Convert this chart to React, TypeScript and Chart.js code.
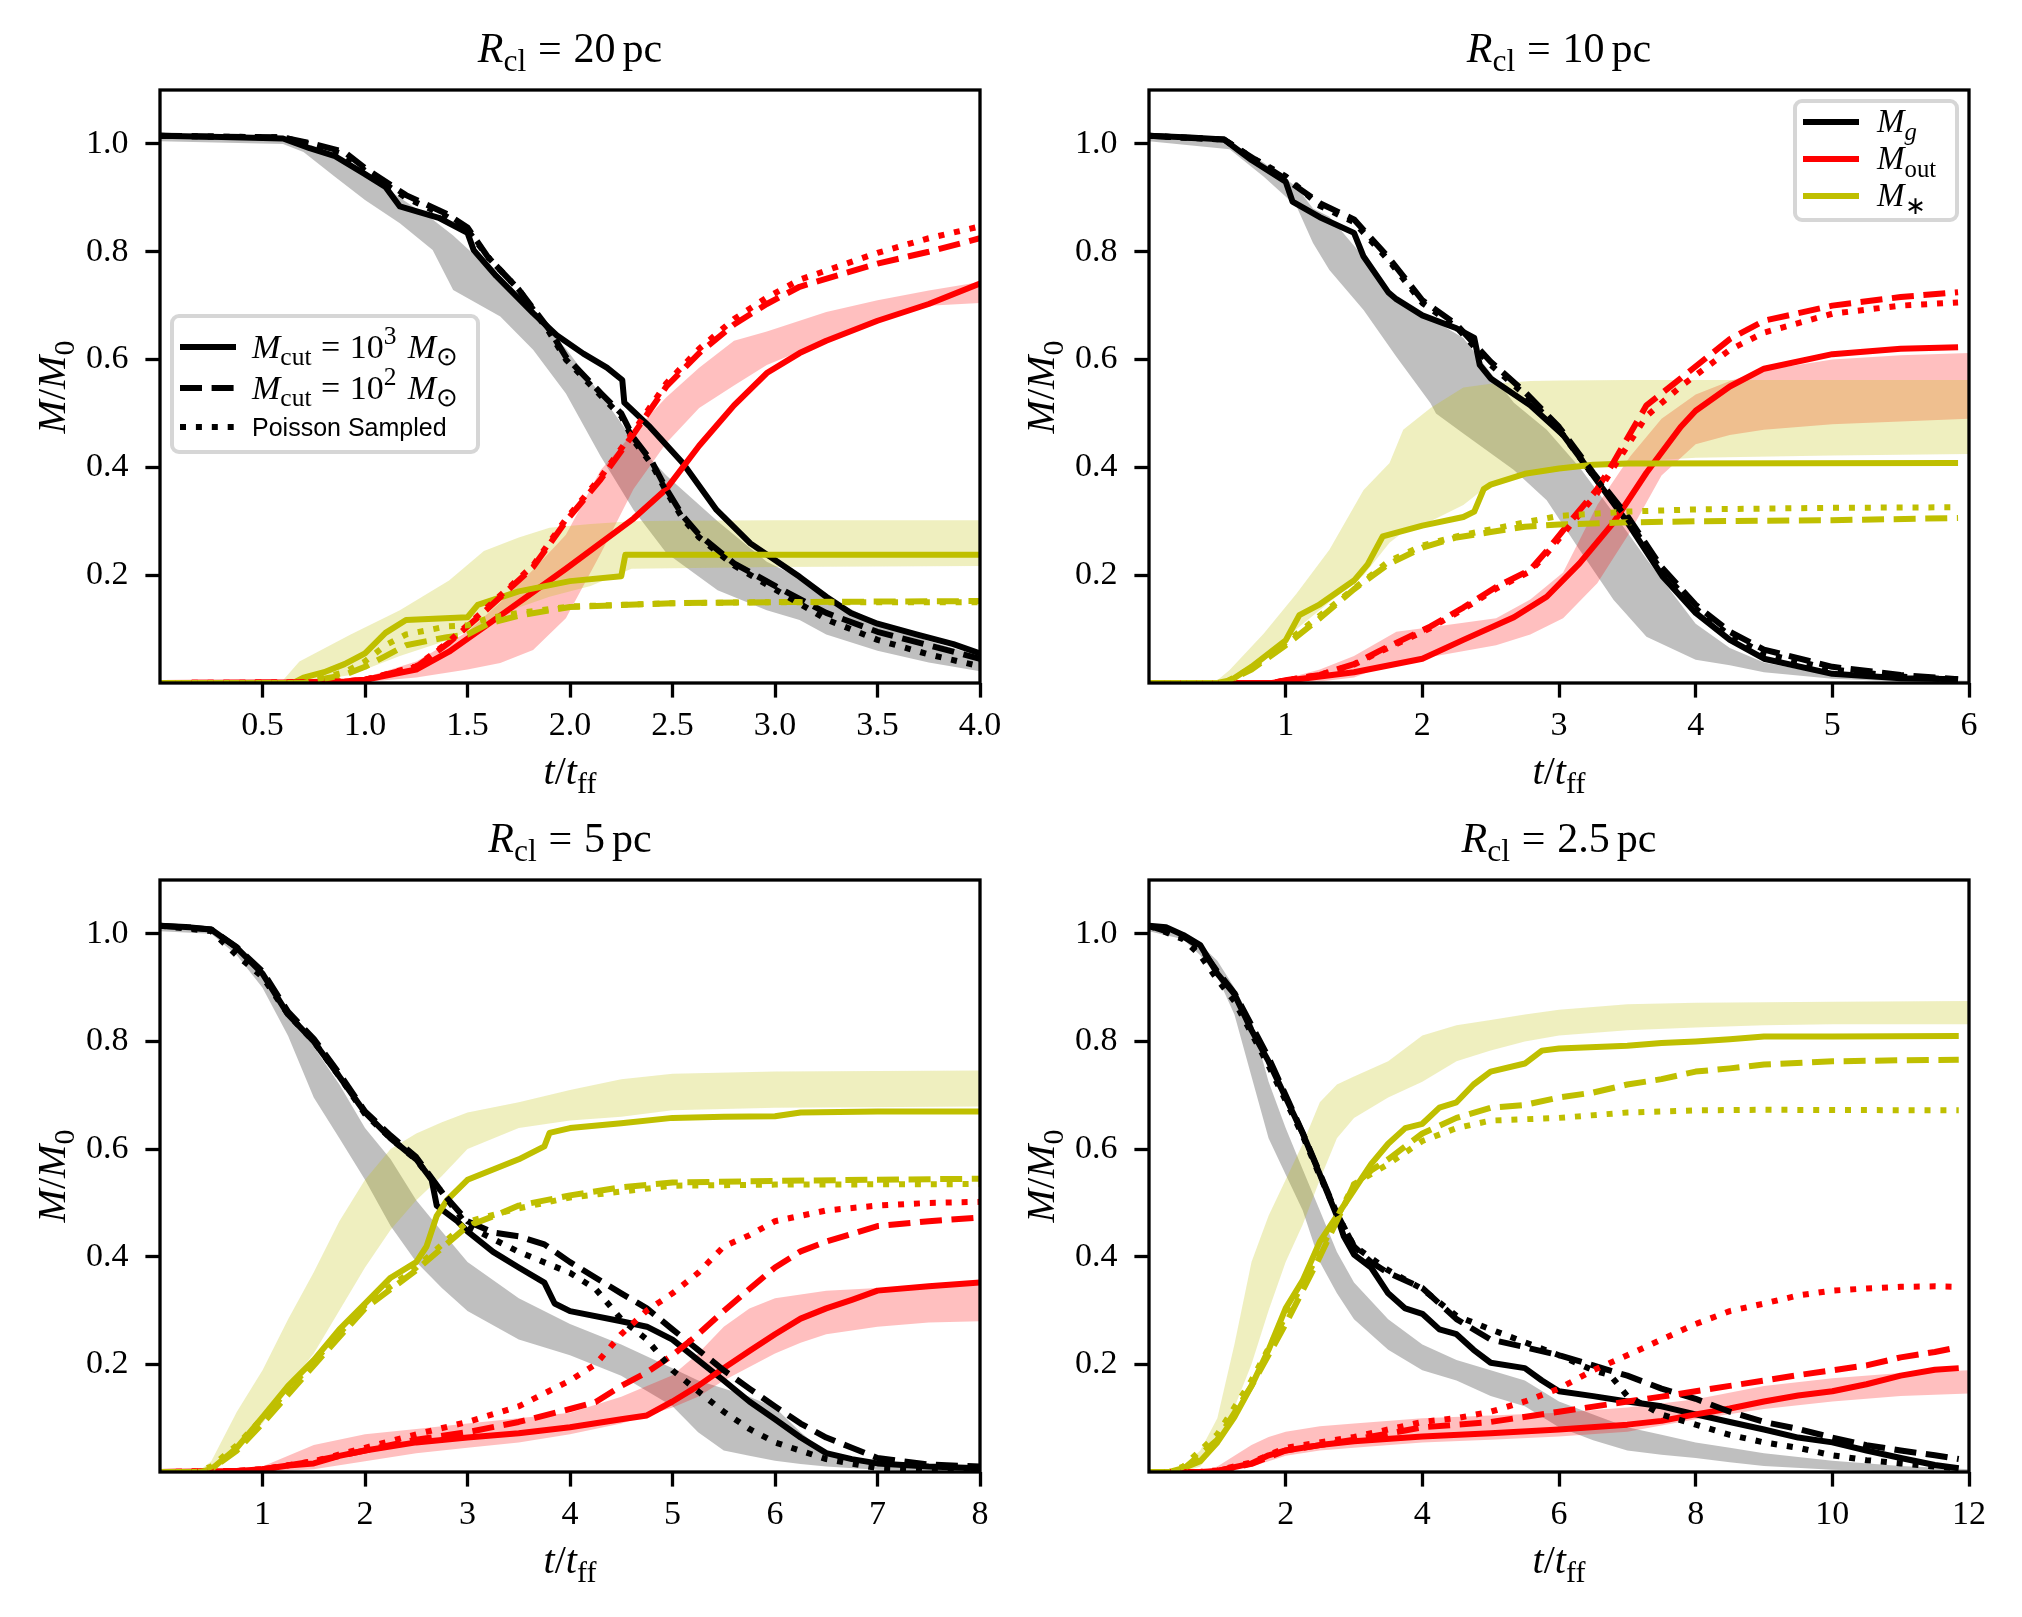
import { useEffect, useRef } from "react";
import type { ReactNode } from "react";
import Chart from "chart.js/auto";

type Pt = [number, number];
// [t, lower, upper]
type Band = [number, number, number][];

const yTicks = [0.2, 0.4, 0.6, 0.8, 1.0];

// ---------- R_cl = 20 pc ----------
const r20Ticks = [0.5, 1.0, 1.5, 2.0, 2.5, 3.0, 3.5, 4.0];
const r20GasA: Pt[] = [[0,1.015],[0.3,1.013],[0.6,1.01],[0.73,0.992],[0.85,0.978],[1.0,0.944],[1.1,0.92],[1.17,0.884],[1.36,0.863],[1.5,0.835],[1.53,0.803],[1.64,0.755],[1.82,0.686],[1.935,0.645],[2.065,0.611],[2.18,0.585],[2.255,0.562],[2.265,0.52],[2.39,0.475],[2.55,0.408],[2.715,0.321],[2.88,0.259],[3.12,0.197],[3.25,0.16],[3.37,0.13],[3.5,0.11],[3.69,0.09],[3.87,0.072],[4.0,0.055]];
const r20GasB: Pt[] = [[0,1.015],[0.6,1.012],[0.75,1.0],[0.9,0.985],[1.0,0.955],[1.2,0.905],[1.4,0.87],[1.5,0.845],[1.6,0.79],[1.75,0.73],[1.9,0.655],[1.98,0.605],[2.15,0.538],[2.25,0.5],[2.31,0.455],[2.4,0.41],[2.47,0.36],[2.55,0.31],[2.63,0.275],[2.8,0.222],[3.04,0.172],[3.25,0.13],[3.5,0.095],[3.75,0.07],[4.0,0.045]];
const r20GasP: Pt[] = [[0,1.015],[0.6,1.012],[0.75,0.998],[0.9,0.98],[1.0,0.95],[1.2,0.9],[1.4,0.865],[1.5,0.84],[1.6,0.79],[1.75,0.73],[1.9,0.65],[1.98,0.6],[2.15,0.533],[2.25,0.495],[2.31,0.45],[2.4,0.405],[2.47,0.355],[2.55,0.305],[2.63,0.27],[2.8,0.218],[3.04,0.165],[3.25,0.118],[3.5,0.08],[3.75,0.053],[4.0,0.031]];
const r20GasBand: Band = [[0,1.005,1.013],[0.6,1.0,1.01],[0.7,0.985,1.0],[0.85,0.94,0.975],[1.0,0.896,0.945],[1.17,0.853,0.9],[1.33,0.803,0.86],[1.43,0.729,0.83],[1.66,0.68,0.75],[1.82,0.618,0.685],[1.98,0.537,0.62],[2.15,0.42,0.535],[2.31,0.321,0.45],[2.47,0.241,0.385],[2.72,0.172,0.3],[2.96,0.135,0.225],[3.12,0.117,0.195],[3.25,0.09,0.16],[3.5,0.06,0.112],[3.75,0.038,0.078],[4.0,0.022,0.05]];
const r20OutA: Pt[] = [[0,0],[0.6,0.001],[0.9,0.003],[1.0,0.006],[1.25,0.025],[1.41,0.058],[1.66,0.125],[1.98,0.212],[2.31,0.305],[2.47,0.36],[2.63,0.44],[2.8,0.515],[2.96,0.575],[3.12,0.612],[3.25,0.635],[3.5,0.672],[3.75,0.703],[4.0,0.741]];
const r20OutB: Pt[] = [[0,0],[0.6,0.001],[0.9,0.003],[1.0,0.006],[1.25,0.03],[1.41,0.075],[1.59,0.135],[1.82,0.215],[1.98,0.3],[2.15,0.378],[2.31,0.462],[2.47,0.55],[2.63,0.612],[2.8,0.665],[2.96,0.703],[3.12,0.735],[3.5,0.778],[3.75,0.80],[4.0,0.825]];
const r20OutP: Pt[] = [[0,0],[0.6,0.001],[0.9,0.003],[1.0,0.006],[1.25,0.031],[1.41,0.077],[1.59,0.138],[1.82,0.218],[1.98,0.304],[2.15,0.382],[2.31,0.467],[2.47,0.556],[2.63,0.62],[2.8,0.675],[2.96,0.715],[3.12,0.748],[3.5,0.798],[3.75,0.825],[4.0,0.847]];
const r20OutBand: Band = [[0,0,0.001],[0.9,0,0.002],[1.0,0.002,0.01],[1.25,0.01,0.04],[1.5,0.025,0.095],[1.66,0.037,0.15],[1.82,0.061,0.21],[1.98,0.12,0.275],[2.15,0.24,0.395],[2.31,0.36,0.465],[2.47,0.445,0.53],[2.63,0.51,0.585],[2.8,0.552,0.635],[2.96,0.59,0.652],[3.12,0.615,0.672],[3.25,0.64,0.688],[3.5,0.675,0.71],[3.75,0.70,0.728],[4.0,0.705,0.744]];
const r20StarA: Pt[] = [[0,0],[0.65,0],[0.7,0.01],[0.8,0.02],[0.9,0.035],[1.0,0.055],[1.05,0.074],[1.1,0.093],[1.2,0.117],[1.5,0.122],[1.55,0.145],[1.75,0.17],[2.0,0.189],[2.25,0.198],[2.27,0.238],[4.0,0.238]];
const r20StarB: Pt[] = [[0,0],[0.7,0],[0.8,0.008],[0.9,0.015],[1.0,0.03],[1.1,0.05],[1.2,0.07],[1.4,0.085],[1.5,0.09],[1.6,0.11],[1.75,0.125],[2.0,0.141],[2.5,0.148],[3.0,0.15],[4.0,0.152]];
const r20StarP: Pt[] = [[0,0],[0.7,0],[0.8,0.01],[0.9,0.02],[1.0,0.04],[1.1,0.07],[1.2,0.09],[1.4,0.105],[1.5,0.107],[1.6,0.12],[1.75,0.13],[2.0,0.142],[2.5,0.148],[3.0,0.15],[4.0,0.15]];
const r20StarBand: Band = [[0,0,0],[0.6,0,0.005],[0.68,0,0.04],[0.93,0.015,0.09],[1.17,0.05,0.135],[1.41,0.08,0.19],[1.58,0.11,0.245],[1.75,0.14,0.27],[1.9,0.16,0.288],[2.1,0.18,0.295],[2.3,0.212,0.3],[2.5,0.213,0.301],[3.0,0.215,0.302],[4.0,0.217,0.302]];

// ---------- R_cl = 10 pc ----------
const r10Ticks = [1, 2, 3, 4, 5, 6];
const r10GasA: Pt[] = [[0,1.015],[0.3,1.012],[0.55,1.008],[0.75,0.97],[1.0,0.93],[1.05,0.893],[1.25,0.864],[1.5,0.835],[1.57,0.791],[1.75,0.725],[1.81,0.712],[2.0,0.682],[2.25,0.658],[2.38,0.64],[2.42,0.59],[2.5,0.565],[2.79,0.515],[3.03,0.46],[3.25,0.385],[3.5,0.298],[3.76,0.197],[4.0,0.13],[4.25,0.08],[4.5,0.045],[5.0,0.017],[5.5,0.009],[5.92,0.007]];
const r10GasB: Pt[] = [[0,1.015],[0.55,1.008],[0.75,0.975],[1.0,0.935],[1.25,0.89],[1.5,0.86],[1.75,0.79],[2.0,0.71],[2.25,0.665],[2.5,0.596],[2.75,0.54],[3.0,0.475],[3.25,0.39],[3.5,0.31],[3.75,0.215],[4.0,0.145],[4.25,0.095],[4.5,0.062],[5.0,0.03],[5.5,0.015],[5.92,0.007]];
const r10GasP: Pt[] = [[0,1.015],[0.55,1.008],[0.75,0.975],[1.0,0.94],[1.25,0.885],[1.5,0.855],[1.75,0.785],[2.0,0.705],[2.25,0.66],[2.5,0.59],[2.75,0.535],[3.0,0.47],[3.25,0.385],[3.5,0.305],[3.75,0.208],[4.0,0.138],[4.25,0.088],[4.5,0.055],[5.0,0.025],[5.5,0.012],[5.92,0.006]];
const r10GasBand: Band = [[0,1.005,1.013],[0.59,0.99,1.005],[0.84,0.939,0.965],[1.08,0.884,0.92],[1.2,0.816,0.88],[1.32,0.766,0.865],[1.57,0.692,0.79],[1.81,0.605,0.71],[2.06,0.519,0.675],[2.1,0.5,0.67],[2.3,0.463,0.64],[2.67,0.395,0.52],[2.91,0.339,0.47],[3.15,0.247,0.4],[3.4,0.154,0.315],[3.64,0.086,0.23],[4.0,0.043,0.11],[4.25,0.033,0.065],[4.5,0.02,0.038],[5.0,0.008,0.014],[5.5,0.003,0.006],[6.0,0.001,0.004]];
const r10OutA: Pt[] = [[0,0],[0.9,0],[1.0,0.004],[1.5,0.02],[2.0,0.045],[2.3,0.08],[2.67,0.122],[2.91,0.16],[3.15,0.222],[3.4,0.298],[3.64,0.39],[3.89,0.475],[4.0,0.505],[4.25,0.55],[4.5,0.583],[5.0,0.61],[5.5,0.62],[5.92,0.623]];
const r10OutB: Pt[] = [[0,0],[0.9,0],[1.0,0.005],[1.25,0.015],[1.5,0.035],[1.69,0.06],[2.06,0.105],[2.3,0.14],[2.54,0.178],[2.79,0.21],[2.91,0.245],[3.1,0.305],[3.28,0.36],[3.4,0.41],[3.64,0.515],[3.89,0.565],[4.25,0.638],[4.5,0.672],[5.0,0.70],[5.5,0.716],[5.92,0.725]];
const r10OutP: Pt[] = [[0,0],[0.9,0],[1.0,0.005],[1.25,0.015],[1.5,0.034],[1.69,0.058],[2.06,0.102],[2.3,0.137],[2.54,0.175],[2.79,0.207],[2.91,0.24],[3.1,0.298],[3.28,0.352],[3.4,0.4],[3.64,0.495],[3.89,0.55],[4.25,0.618],[4.5,0.65],[5.0,0.685],[5.5,0.70],[5.92,0.706]];
const r10OutBand: Band = [[0,0,0],[0.9,0,0.002],[1.0,0,0.008],[1.25,0.003,0.025],[1.5,0.01,0.05],[1.81,0.04,0.095],[2.1,0.05,0.105],[2.54,0.07,0.12],[2.79,0.09,0.155],[3.03,0.12,0.205],[3.28,0.185,0.33],[3.52,0.28,0.42],[3.75,0.385,0.49],[4.0,0.443,0.535],[4.25,0.46,0.56],[4.5,0.47,0.58],[5.0,0.48,0.6],[5.5,0.485,0.608],[6.0,0.49,0.612]];
const r10StarA: Pt[] = [[0,0],[0.5,0],[0.6,0.005],[0.75,0.03],[1.0,0.079],[1.1,0.126],[1.25,0.146],[1.5,0.19],[1.6,0.22],[1.71,0.272],[2.0,0.292],[2.3,0.308],[2.38,0.318],[2.45,0.36],[2.5,0.368],[2.75,0.388],[3.0,0.398],[3.25,0.405],[3.5,0.407],[5.92,0.408]];
const r10StarB: Pt[] = [[0,0],[0.55,0],[0.75,0.025],[1.0,0.07],[1.25,0.12],[1.5,0.174],[1.75,0.22],[2.0,0.251],[2.25,0.27],[2.5,0.28],[2.75,0.29],[3.0,0.294],[3.5,0.298],[4.0,0.30],[5.0,0.302],[5.92,0.306]];
const r10StarP: Pt[] = [[0,0],[0.55,0],[0.75,0.028],[1.0,0.075],[1.25,0.125],[1.5,0.175],[1.75,0.225],[2.0,0.255],[2.25,0.272],[2.5,0.285],[2.75,0.298],[3.0,0.31],[3.5,0.318],[4.0,0.322],[5.0,0.325],[5.92,0.326]];
const r10StarBand: Band = [[0,0,0],[0.5,0,0.005],[0.59,0.003,0.024],[0.84,0.04,0.092],[1.08,0.1,0.166],[1.32,0.15,0.247],[1.57,0.2,0.358],[1.76,0.26,0.408],[1.86,0.28,0.47],[2.06,0.3,0.51],[2.3,0.33,0.548],[2.5,0.37,0.555],[2.79,0.395,0.56],[3.0,0.4,0.561],[3.5,0.41,0.562],[4.0,0.418,0.562],[5.0,0.422,0.562],[6.0,0.425,0.562]];

// ---------- R_cl = 5 pc ----------
const r5Ticks = [1, 2, 3, 4, 5, 6, 7, 8];
const r5GasA: Pt[] = [[0,1.015],[0.3,1.012],[0.5,1.008],[0.75,0.974],[1.0,0.926],[1.25,0.85],[1.5,0.80],[1.75,0.735],[2.0,0.668],[2.25,0.62],[2.5,0.581],[2.65,0.543],[2.7,0.495],[2.9,0.466],[3.0,0.447],[3.25,0.409],[3.5,0.38],[3.75,0.352],[3.85,0.313],[4.0,0.299],[4.5,0.28],[4.75,0.27],[5.0,0.246],[5.25,0.208],[5.5,0.17],[5.75,0.131],[6.0,0.098],[6.25,0.064],[6.5,0.035],[6.75,0.024],[7.0,0.016],[7.5,0.01],[8.0,0.007]];
const r5GasB: Pt[] = [[0,1.015],[0.5,1.008],[0.75,0.975],[1.0,0.93],[1.25,0.855],[1.5,0.805],[1.75,0.74],[2.0,0.67],[2.25,0.625],[2.5,0.585],[2.75,0.52],[3.0,0.466],[3.25,0.445],[3.5,0.438],[3.75,0.423],[4.0,0.39],[4.25,0.361],[4.5,0.332],[4.75,0.304],[5.0,0.265],[5.25,0.227],[5.5,0.189],[5.75,0.155],[6.0,0.122],[6.25,0.09],[6.5,0.064],[6.75,0.045],[7.0,0.026],[7.5,0.014],[8.0,0.01]];
const r5GasP: Pt[] = [[0,1.015],[0.5,1.005],[0.75,0.96],[1.0,0.92],[1.25,0.85],[1.5,0.8],[1.75,0.735],[2.0,0.665],[2.25,0.62],[2.5,0.58],[2.75,0.52],[3.0,0.457],[3.5,0.409],[4.0,0.37],[4.25,0.34],[4.5,0.284],[4.75,0.246],[5.0,0.189],[5.25,0.15],[5.5,0.112],[5.75,0.08],[6.0,0.055],[6.5,0.024],[7.0,0.007],[7.5,0.002],[8.0,0]];
const r5GasBand: Band = [[0,1.005,1.013],[0.5,1.0,1.008],[0.75,0.96,0.98],[1.0,0.9,0.925],[1.25,0.81,0.86],[1.5,0.696,0.79],[1.75,0.62,0.72],[2.0,0.543,0.639],[2.25,0.457,0.581],[2.5,0.39,0.505],[2.75,0.342,0.447],[3.0,0.299,0.39],[3.5,0.246,0.323],[4.0,0.217,0.275],[4.5,0.179,0.237],[5.0,0.122,0.193],[5.25,0.074,0.17],[5.5,0.04,0.155],[5.75,0.03,0.14],[6.0,0.021,0.12],[6.25,0.015,0.074],[6.5,0.01,0.035],[7.0,0.004,0.012],[8.0,0,0.005]];
const r5OutA: Pt[] = [[0,0],[0.75,0.002],[1.0,0.005],[1.25,0.012],[1.5,0.016],[1.75,0.03],[2.0,0.04],[2.5,0.055],[3.0,0.064],[3.5,0.072],[4.0,0.083],[4.5,0.098],[4.75,0.105],[5.0,0.131],[5.25,0.16],[5.5,0.193],[5.75,0.225],[6.0,0.256],[6.25,0.285],[6.5,0.304],[6.75,0.32],[7.0,0.337],[7.5,0.345],[8.0,0.352]];
const r5OutB: Pt[] = [[0,0],[0.75,0.002],[1.0,0.005],[1.5,0.02],[2.0,0.04],[2.5,0.06],[3.0,0.074],[3.5,0.093],[4.0,0.117],[4.25,0.13],[4.5,0.16],[4.75,0.185],[5.0,0.217],[5.25,0.256],[5.5,0.299],[5.75,0.34],[6.0,0.38],[6.25,0.41],[6.5,0.428],[7.0,0.457],[7.5,0.466],[8.0,0.473]];
const r5OutP: Pt[] = [[0,0],[0.75,0.002],[1.0,0.005],[1.5,0.02],[2.0,0.045],[2.5,0.07],[3.0,0.093],[3.5,0.122],[4.0,0.17],[4.25,0.2],[4.5,0.256],[4.75,0.3],[5.0,0.332],[5.25,0.37],[5.5,0.419],[5.75,0.44],[6.0,0.466],[6.5,0.486],[7.0,0.495],[7.5,0.5],[8.0,0.502]];
const r5OutBand: Band = [[0,0,0],[0.75,0,0.003],[1.0,0,0.01],[1.25,0.003,0.03],[1.5,0.005,0.05],[2.0,0.02,0.07],[2.5,0.035,0.08],[3.0,0.045,0.09],[3.5,0.055,0.1],[4.0,0.07,0.11],[4.5,0.09,0.14],[5.0,0.12,0.18],[5.25,0.14,0.22],[5.5,0.17,0.27],[5.75,0.195,0.304],[6.0,0.22,0.323],[6.25,0.24,0.33],[6.5,0.256,0.337],[7.0,0.27,0.342],[7.5,0.278,0.345],[8.0,0.28,0.347]];
const r5StarA: Pt[] = [[0,0],[0.4,0],[0.5,0.005],[0.75,0.045],[1.0,0.102],[1.25,0.16],[1.5,0.208],[1.75,0.265],[2.0,0.313],[2.25,0.361],[2.5,0.39],[2.6,0.419],[2.7,0.476],[2.8,0.505],[3.0,0.543],[3.25,0.562],[3.5,0.581],[3.75,0.605],[3.8,0.63],[4.0,0.639],[4.5,0.648],[5.0,0.658],[5.5,0.66],[6.0,0.661],[6.25,0.668],[7.0,0.67],[8.0,0.67]];
const r5StarB: Pt[] = [[0,0],[0.4,0],[0.5,0.005],[0.75,0.04],[1.0,0.09],[1.5,0.198],[2.0,0.304],[2.5,0.375],[3.0,0.457],[3.25,0.475],[3.5,0.495],[4.0,0.514],[4.5,0.529],[5.0,0.538],[6.0,0.541],[8.0,0.545]];
const r5StarP: Pt[] = [[0,0],[0.35,0],[0.5,0.01],[0.75,0.05],[1.0,0.1],[1.5,0.205],[2.0,0.31],[2.5,0.38],[3.0,0.465],[3.5,0.49],[4.0,0.51],[5.0,0.532],[6.0,0.534],[8.0,0.535]];
const r5StarBand: Band = [[0,0,0],[0.4,0,0.005],[0.5,0,0.02],[0.75,0.04,0.112],[1.0,0.09,0.189],[1.25,0.16,0.284],[1.5,0.22,0.371],[1.75,0.3,0.466],[2.0,0.38,0.543],[2.25,0.45,0.6],[2.5,0.505,0.629],[2.75,0.55,0.65],[3.0,0.6,0.668],[3.5,0.639,0.687],[4.0,0.653,0.71],[4.5,0.66,0.73],[5.0,0.672,0.74],[6.0,0.677,0.744],[8.0,0.679,0.746]];

// ---------- R_cl = 2.5 pc ----------
const r2p5Ticks = [2, 4, 6, 8, 10, 12];
const r2p5GasA: Pt[] = [[0,1.015],[0.25,1.012],[0.5,0.998],[0.75,0.979],[1.0,0.926],[1.25,0.888],[1.5,0.821],[1.75,0.763],[2.0,0.696],[2.25,0.629],[2.5,0.553],[2.75,0.476],[2.85,0.438],[3.0,0.404],[3.25,0.38],[3.5,0.332],[3.75,0.304],[4.0,0.294],[4.25,0.265],[4.5,0.256],[4.75,0.227],[5.0,0.203],[5.5,0.193],[5.75,0.17],[6.0,0.15],[6.5,0.141],[7.0,0.131],[7.5,0.122],[8.0,0.107],[8.5,0.093],[9.0,0.079],[9.5,0.064],[10.0,0.055],[10.5,0.04],[11.0,0.026],[11.5,0.013],[11.85,0.007]];
const r2p5GasB: Pt[] = [[0,1.015],[0.5,0.995],[0.75,0.975],[1.0,0.93],[1.25,0.89],[1.5,0.83],[1.75,0.77],[2.0,0.7],[2.25,0.63],[2.5,0.555],[2.75,0.48],[3.0,0.419],[3.25,0.39],[3.5,0.37],[4.0,0.342],[4.5,0.284],[5.0,0.246],[5.5,0.232],[6.0,0.217],[6.5,0.198],[7.0,0.179],[7.5,0.155],[8.0,0.136],[8.5,0.112],[9.0,0.093],[9.5,0.08],[10.0,0.064],[10.5,0.05],[11.0,0.04],[11.5,0.031],[11.85,0.024]];
const r2p5GasP: Pt[] = [[0,1.015],[0.5,0.99],[0.75,0.96],[1.0,0.915],[1.25,0.875],[1.5,0.815],[1.75,0.755],[2.0,0.69],[2.25,0.625],[2.5,0.55],[2.75,0.48],[3.0,0.42],[3.5,0.375],[4.0,0.34],[4.5,0.29],[5.0,0.265],[5.5,0.241],[6.0,0.217],[6.5,0.189],[6.75,0.18],[7.0,0.141],[7.5,0.107],[8.0,0.088],[8.5,0.069],[9.0,0.055],[9.5,0.045],[10.0,0.031],[10.5,0.022],[11.0,0.016],[11.5,0.01],[11.85,0.007]];
const r2p5GasBand: Band = [[0,1.005,1.013],[0.5,0.99,1.0],[0.75,0.96,0.98],[1.0,0.92,0.95],[1.25,0.85,0.9],[1.5,0.735,0.84],[1.75,0.62,0.725],[2.0,0.553,0.639],[2.25,0.486,0.562],[2.5,0.39,0.486],[2.75,0.332,0.409],[3.0,0.284,0.352],[3.5,0.227,0.284],[4.0,0.189,0.237],[4.5,0.17,0.208],[5.0,0.141,0.189],[5.5,0.122,0.17],[6.0,0.083,0.131],[6.5,0.059,0.107],[7.0,0.04,0.083],[7.5,0.032,0.069],[8.0,0.026,0.055],[8.5,0.018,0.045],[9.0,0.011,0.035],[10.0,0.004,0.021],[11.0,0.001,0.011],[12.0,0,0.005]];
const r2p5OutA: Pt[] = [[0,0],[0.75,0],[1.0,0.002],[1.25,0.009],[1.5,0.016],[1.75,0.031],[2.0,0.04],[2.5,0.05],[3.0,0.057],[4.0,0.066],[5.0,0.072],[6.0,0.079],[7.0,0.088],[7.5,0.095],[8.0,0.107],[8.5,0.118],[9.0,0.131],[9.5,0.142],[10.0,0.15],[10.5,0.163],[11.0,0.179],[11.5,0.19],[11.85,0.193]];
const r2p5OutB: Pt[] = [[0,0],[0.75,0],[1.0,0.002],[1.5,0.015],[2.0,0.04],[2.5,0.05],[3.0,0.06],[4.0,0.083],[5.0,0.093],[6.0,0.112],[7.0,0.131],[7.5,0.14],[8.0,0.15],[8.5,0.16],[9.0,0.17],[9.5,0.18],[10.0,0.189],[10.5,0.198],[11.0,0.213],[11.5,0.223],[11.85,0.232]];
const r2p5OutP: Pt[] = [[0,0],[0.75,0],[1.0,0.003],[1.5,0.018],[2.0,0.045],[3.0,0.065],[4.0,0.093],[4.5,0.1],[5.0,0.112],[5.5,0.131],[6.0,0.155],[6.5,0.189],[7.0,0.217],[7.5,0.246],[8.0,0.275],[8.5,0.299],[9.0,0.313],[9.5,0.328],[10.0,0.337],[10.5,0.341],[11.0,0.344],[11.5,0.345],[11.85,0.344]];
const r2p5OutBand: Band = [[0,0,0],[0.75,0,0.002],[1.0,0,0.01],[1.25,0.005,0.03],[1.5,0.01,0.05],[1.75,0.02,0.065],[2.0,0.03,0.075],[2.5,0.04,0.085],[3.0,0.045,0.09],[4.0,0.055,0.1],[5.0,0.06,0.105],[6.0,0.066,0.11],[7.0,0.075,0.12],[8.0,0.098,0.135],[9.0,0.117,0.16],[10.0,0.131,0.174],[11.0,0.141,0.184],[12.0,0.146,0.189]];
const r2p5StarA: Pt[] = [[0,0],[0.3,0],[0.5,0.007],[0.75,0.02],[1.0,0.055],[1.25,0.102],[1.5,0.16],[1.75,0.227],[2.0,0.304],[2.25,0.356],[2.5,0.428],[2.75,0.476],[3.0,0.524],[3.25,0.572],[3.5,0.61],[3.75,0.639],[4.0,0.647],[4.25,0.677],[4.5,0.687],[4.75,0.72],[5.0,0.744],[5.5,0.759],[5.75,0.783],[6.0,0.787],[7.0,0.792],[7.5,0.797],[8.0,0.80],[8.5,0.804],[9.0,0.809],[10.0,0.809],[11.85,0.81]];
const r2p5StarB: Pt[] = [[0,0],[0.3,0],[0.5,0.005],[1.0,0.06],[1.5,0.16],[2.0,0.275],[2.5,0.4],[3.0,0.534],[3.25,0.56],[3.5,0.581],[4.0,0.629],[4.5,0.658],[5.0,0.677],[5.5,0.682],[6.0,0.696],[6.5,0.705],[7.0,0.72],[7.5,0.73],[8.0,0.744],[8.5,0.75],[9.0,0.757],[10.0,0.763],[11.0,0.765],[11.85,0.766]];
const r2p5StarP: Pt[] = [[0,0],[0.3,0],[0.5,0.01],[1.0,0.07],[1.5,0.17],[2.0,0.29],[2.5,0.41],[3.0,0.535],[3.5,0.572],[4.0,0.615],[4.5,0.639],[5.0,0.653],[6.0,0.658],[7.0,0.668],[8.0,0.672],[9.0,0.673],[11.85,0.672]];
const r2p5StarBand: Band = [[0,0,0],[0.3,0,0.003],[0.5,0,0.01],[0.75,0.01,0.04],[1.0,0.05,0.1],[1.25,0.12,0.237],[1.5,0.2,0.39],[1.75,0.3,0.476],[2.0,0.39,0.543],[2.25,0.46,0.61],[2.5,0.543,0.687],[2.75,0.62,0.72],[3.0,0.658,0.735],[3.5,0.696,0.763],[4.0,0.725,0.811],[4.5,0.763,0.83],[5.0,0.783,0.84],[5.5,0.8,0.85],[6.0,0.811,0.859],[7.0,0.821,0.869],[8.0,0.826,0.872],[9.0,0.83,0.873],[10.0,0.832,0.874],[12.0,0.832,0.875]];

// ---------- styling ----------
const SERIF = "'Liberation Serif', 'Times New Roman', serif";
const SANS = "'Liberation Sans', Arial, sans-serif";
const BLACK = "#000000";
const RED = "#ff0000";
const YELLOW = "#bfbf00";
const GRAY_FILL = "rgba(128,128,128,0.5)";
const RED_FILL = "rgba(255,0,0,0.25)";
const YELLOW_FILL = "rgba(191,191,0,0.25)";
const LW = 6;
const SOLID: number[] = [];
const DASHED = [22, 9.6];
const DOTTED = [6, 9.9];

const PAD_L = 150;
const PAD_T = 20;
const PAD_R = 60;
const PAD_B = 80;

interface Box { l: number; t: number; r: number; b: number }

interface PanelSpec {
  radius: string;
  xMax: number;
  xTicks: number[];
  decimals: number;
  box: Box;
  gas: Pt[][];
  out: Pt[][];
  star: Pt[][];
  gasBand: Band;
  outBand: Band;
  starBand: Band;
}

const panels: PanelSpec[] = [
  { radius: "20", xMax: 4, xTicks: r20Ticks, decimals: 1, box: { l: 160, t: 90, r: 980, b: 683 },
    gas: [r20GasA, r20GasB, r20GasP], out: [r20OutA, r20OutB, r20OutP], star: [r20StarA, r20StarB, r20StarP],
    gasBand: r20GasBand, outBand: r20OutBand, starBand: r20StarBand },
  { radius: "10", xMax: 6, xTicks: r10Ticks, decimals: 0, box: { l: 1149, t: 90, r: 1969, b: 683 },
    gas: [r10GasA, r10GasB, r10GasP], out: [r10OutA, r10OutB, r10OutP], star: [r10StarA, r10StarB, r10StarP],
    gasBand: r10GasBand, outBand: r10OutBand, starBand: r10StarBand },
  { radius: "5", xMax: 8, xTicks: r5Ticks, decimals: 0, box: { l: 160, t: 880, r: 980, b: 1472 },
    gas: [r5GasA, r5GasB, r5GasP], out: [r5OutA, r5OutB, r5OutP], star: [r5StarA, r5StarB, r5StarP],
    gasBand: r5GasBand, outBand: r5OutBand, starBand: r5StarBand },
  { radius: "2.5", xMax: 12, xTicks: r2p5Ticks, decimals: 0, box: { l: 1149, t: 880, r: 1969, b: 1472 },
    gas: [r2p5GasA, r2p5GasB, r2p5GasP], out: [r2p5OutA, r2p5OutB, r2p5OutP], star: [r2p5StarA, r2p5StarB, r2p5StarP],
    gasBand: r2p5GasBand, outBand: r2p5OutBand, starBand: r2p5StarBand },
];

const dashes = [SOLID, DASHED, DOTTED];

function lineSet(pts: Pt[], color: string, dash: number[]) {
  return {
    data: pts.map(([x, y]) => ({ x, y })),
    borderColor: color,
    borderWidth: LW,
    borderDash: dash,
    borderJoinStyle: "round" as const,
    pointRadius: 0,
    tension: 0,
    fill: false,
    order: 1,
  };
}

function bandSets(band: Band, fill: string) {
  return [
    { data: band.map(([x, lo]) => ({ x, y: lo })), borderWidth: 0, borderColor: "transparent",
      pointRadius: 0, fill: false, order: 2 },
    { data: band.map(([x, , hi]) => ({ x, y: hi })), borderWidth: 0, borderColor: "transparent",
      pointRadius: 0, fill: "-1", backgroundColor: fill, order: 2 },
  ];
}

// axes box drawn over the data, like matplotlib spines
const framePlugin = {
  id: "axesFrame",
  afterDatasetsDraw(chart: Chart) {
    const { ctx, chartArea: a } = chart;
    ctx.save();
    ctx.strokeStyle = "#000";
    ctx.lineWidth = 3.3;
    ctx.strokeRect(a.left, a.top, a.right - a.left, a.bottom - a.top);
    ctx.restore();
  },
};

const Sub = ({ children }: { children: ReactNode }) => (
  <span style={{ fontSize: "0.75em", position: "relative", top: "0.3em" }}>{children}</span>
);
const Sup = ({ children }: { children: ReactNode }) => (
  <span style={{ fontSize: "0.75em", position: "relative", top: "-0.55em" }}>{children}</span>
);
const Eq = () => <span style={{ margin: "0 0.28em" }}>=</span>;

function Panel({ spec }: { spec: PanelSpec }) {
  const chartRef = useRef<HTMLCanvasElement>(null);

  useEffect(() => {
    if (!chartRef.current) return;
    const ctx = chartRef.current.getContext("2d");
    if (!ctx) return;

    const datasets: any[] = [];
    [2, 1, 0].forEach((i) => {
      datasets.push(lineSet(spec.star[i], YELLOW, dashes[i]));
      datasets.push(lineSet(spec.out[i], RED, dashes[i]));
      datasets.push(lineSet(spec.gas[i], BLACK, dashes[i]));
    });
    datasets.push(...bandSets(spec.starBand, YELLOW_FILL));
    datasets.push(...bandSets(spec.outBand, RED_FILL));
    datasets.push(...bandSets(spec.gasBand, GRAY_FILL));

    const tickFont = { family: SERIF, size: 34 };
    const grid = { drawOnChartArea: false, drawTicks: true, tickLength: 14.6, tickWidth: 3.3, tickColor: "#000", color: "#000" };

    const chart = new Chart(ctx, {
      type: "line",
      data: { datasets },
      options: {
        animation: false,
        responsive: true,
        maintainAspectRatio: false,
        events: [],
        layout: { padding: { left: 0, top: PAD_T, right: PAD_R, bottom: 0 } },
        plugins: { legend: { display: false }, tooltip: { enabled: false }, title: { display: false } },
        scales: {
          x: {
            type: "linear",
            min: 0,
            max: spec.xMax,
            border: { display: false },
            grid,
            ticks: {
              autoSkip: false,
              maxRotation: 0,
              padding: 8,
              color: "#000",
              font: tickFont,
              callback: (v) => Number(v).toFixed(spec.decimals),
            },
            afterBuildTicks: (s) => {
              s.ticks = spec.xTicks.map((value) => ({ value }));
            },
            afterFit: (s) => {
              s.height = PAD_B;
              s.paddingLeft = 0;
              s.paddingRight = 0;
            },
          },
          y: {
            type: "linear",
            min: 0,
            max: 1.1,
            border: { display: false },
            grid,
            ticks: {
              autoSkip: false,
              padding: 17,
              color: "#000",
              font: tickFont,
              callback: (v) => Number(v).toFixed(1),
            },
            afterBuildTicks: (s) => {
              s.ticks = yTicks.map((value) => ({ value }));
            },
            afterFit: (s) => {
              s.width = PAD_L;
              s.paddingTop = 0;
              s.paddingBottom = 0;
            },
          },
        },
      },
      plugins: [framePlugin],
    });

    return () => {
      chart.destroy();
    };
  }, [spec]);

  const { l, t, r, b } = spec.box;
  const cy = (t + b) / 2;
  return (
    <>
      <div
        style={{
          position: "absolute",
          left: l - PAD_L,
          top: t - PAD_T,
          width: r - l + PAD_L + PAD_R,
          height: b - t + PAD_T + PAD_B,
        }}
      >
        <canvas ref={chartRef} />
      </div>
      <div
        style={{
          position: "absolute", left: l, width: r - l, top: t - 67, height: 50,
          textAlign: "center", fontFamily: SERIF, fontSize: 42, lineHeight: "50px", whiteSpace: "nowrap",
        }}
      >
        <i>R</i><Sub>cl</Sub><Eq />{spec.radius}<span style={{ marginLeft: "0.17em" }}>pc</span>
      </div>
      <div
        style={{
          position: "absolute", left: l, width: r - l, top: b + 64, height: 48,
          textAlign: "center", fontFamily: SERIF, fontSize: 40, lineHeight: "48px", whiteSpace: "nowrap",
        }}
      >
        <i>t</i>/<i>t</i><Sub>ff</Sub>
      </div>
      <div
        style={{
          position: "absolute", left: l - 108 - 100, top: cy - 24, width: 200, height: 48,
          textAlign: "center", fontFamily: SERIF, fontSize: 40, lineHeight: "48px", whiteSpace: "nowrap",
          transform: "rotate(-90deg)",
        }}
      >
        <i>M</i>/<i>M</i><Sub>0</Sub>
      </div>
    </>
  );
}

function LegendFrame({ x, y, w, h }: { x: number; y: number; w: number; h: number }) {
  return (
    <div
      style={{
        position: "absolute", left: x, top: y, width: w, height: h, boxSizing: "border-box",
        border: "4px solid #d6d6d6", borderRadius: 9, background: "rgba(255,255,255,0.8)",
      }}
    />
  );
}

function LegendRow({ x, textX, y, color, dash, font, size, children }: {
  x: number; textX: number; y: number; color: string; dash: number[]; font: string; size: number; children: ReactNode;
}) {
  const len = 56;
  return (
    <>
      <svg style={{ position: "absolute", left: x, top: y - 6 }} width={len} height={12}>
        <line x1={0} y1={6} x2={len} y2={6} stroke={color} strokeWidth={LW} strokeDasharray={dash.length ? dash.join(" ") : undefined} />
      </svg>
      <div
        style={{
          position: "absolute", left: textX, top: y - 0.6 * size, fontFamily: font, fontSize: size,
          lineHeight: `${1.2 * size}px`, whiteSpace: "nowrap", color: "#000",
        }}
      >
        {children}
      </div>
    </>
  );
}

export default function App() {
  return (
    <div style={{ position: "absolute", left: 0, top: 0, width: 2022, height: 1617, background: "#fff", overflow: "hidden" }}>
      {panels.map((p) => (
        <Panel key={p.radius} spec={p} />
      ))}

      <LegendFrame x={170} y={314} w={310} h={140} />
      <LegendRow x={180} textX={252} y={347} color={BLACK} dash={SOLID} font={SERIF} size={34}>
        <i>M</i><Sub>cut</Sub><Eq />10<Sup>3</Sup><span style={{ marginLeft: "0.33em" }}><i>M</i></span><Sub>⊙</Sub>
      </LegendRow>
      <LegendRow x={180} textX={252} y={388} color={BLACK} dash={DASHED} font={SERIF} size={34}>
        <i>M</i><Sub>cut</Sub><Eq />10<Sup>2</Sup><span style={{ marginLeft: "0.33em" }}><i>M</i></span><Sub>⊙</Sub>
      </LegendRow>
      <LegendRow x={180} textX={252} y={427} color={BLACK} dash={DOTTED} font={SANS} size={25}>
        Poisson Sampled
      </LegendRow>

      <LegendFrame x={1793} y={99} w={166} h={123} />
      <LegendRow x={1803} textX={1877} y={122} color={BLACK} dash={SOLID} font={SERIF} size={33}>
        <i>M</i><Sub><i>g</i></Sub>
      </LegendRow>
      <LegendRow x={1803} textX={1877} y={159} color={RED} dash={SOLID} font={SERIF} size={33}>
        <i>M</i><Sub>out</Sub>
      </LegendRow>
      <LegendRow x={1803} textX={1877} y={196} color={YELLOW} dash={SOLID} font={SERIF} size={33}>
        <i>M</i><Sub>∗</Sub>
      </LegendRow>
    </div>
  );
}
